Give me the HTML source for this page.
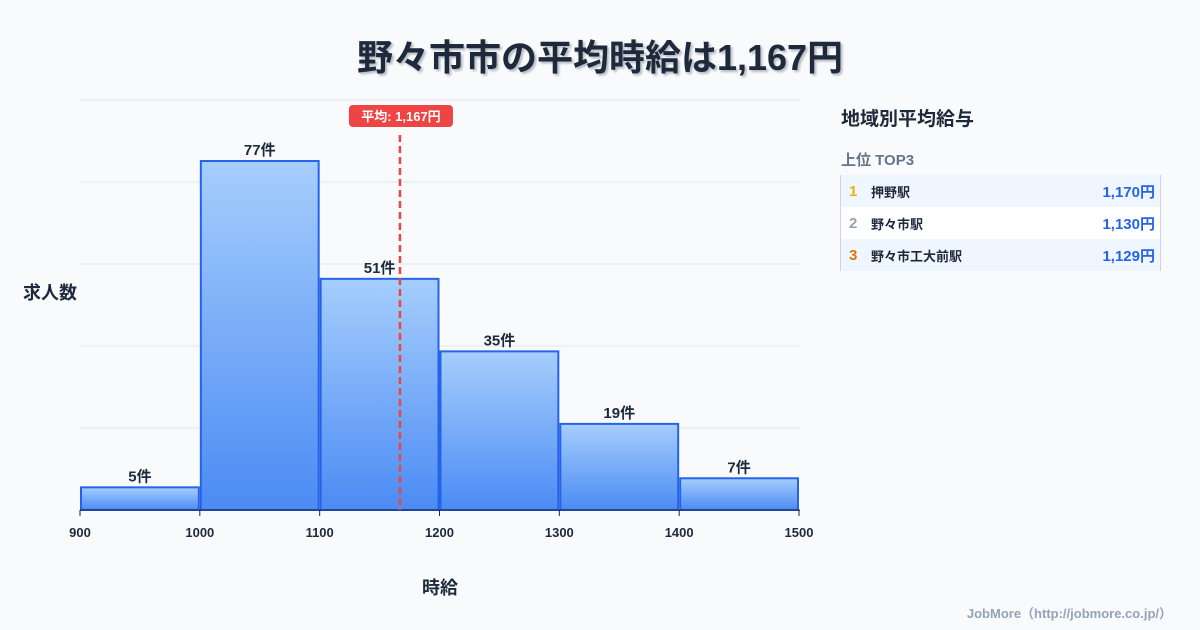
<!DOCTYPE html>
<html><head><meta charset="utf-8"><style>
body{margin:0;width:1200px;height:630px;background:#f8fafc;font-family:"Liberation Sans","Noto Sans CJK JP",sans-serif;overflow:hidden;position:relative}
.t{position:absolute;white-space:nowrap}
.row{height:32px;display:flex;align-items:center;font-weight:bold;padding:0 5px 0 8px}
.row .n{width:22px;font-size:15px}
.row .s{font-size:13px;color:#1e293b;flex:1}
.row .v{font-size:15px;color:#2563eb}
</style></head><body>
<div class="t" style="left:0;width:1200px;text-align:center;top:29px;font-size:36px;font-weight:bold;color:#1e293b;text-shadow:2px 2px 2px rgba(30,41,59,0.3)">野々市市の平均時給は1,167円</div>
<svg id="chart" width="1200" height="630" style="position:absolute;left:0;top:0">
<defs><linearGradient id="g" x1="0" y1="0" x2="0" y2="1"><stop offset="0" stop-color="#a6cefc"/><stop offset="1" stop-color="#4b8bf4"/></linearGradient></defs>
<g id="grid"></g><g id="bars"></g><g id="ticks"></g>
<text x="50" y="299" font-size="18" font-weight="bold" fill="#1e293b" text-anchor="middle">求人数</text>
<text x="440" y="594" font-size="18" font-weight="bold" fill="#1e293b" text-anchor="middle">時給</text>
<g id="avg"></g>
</svg>
<div class="t" style="left:841px;top:104px;font-size:19px;font-weight:bold;color:#1e293b">地域別平均給与</div>
<div class="t" style="left:841px;top:149px;font-size:15px;font-weight:bold;color:#64748b">上位 TOP3</div>
<div style="position:absolute;left:840px;top:175px;width:319px;border-left:1px solid #cbd5e1;border-right:1px solid #cbd5e1">
<div class="row" style="background:#eff6ff"><span class="n" style="color:#eab308">1</span><span class="s">押野駅</span><span class="v">1,170円</span></div>
<div class="row" style="background:#fff"><span class="n" style="color:#94a3b8">2</span><span class="s">野々市駅</span><span class="v">1,130円</span></div>
<div class="row" style="background:#eff6ff"><span class="n" style="color:#d97706">3</span><span class="s">野々市工大前駅</span><span class="v">1,129円</span></div>
</div>
<div class="t" style="right:28px;top:603px;font-size:13px;font-weight:bold;color:#94a3b8">JobMore（http://jobmore.co.jp/）</div>
<script>
const binStarts=[900,1000,1100,1200,1300,1400];
const counts=[5,77,51,35,19,7];
const xTicks=[900,1000,1100,1200,1300,1400,1500];
const avgValue=1167;
const avgLabel="平均: 1,167円";
const NS="http://www.w3.org/2000/svg";
const X=v=>80+(v-900)*719/600;
const Y=v=>510-v*349/77;
function mk(t,a,p){const e=document.createElementNS(NS,t);for(const k in a)e.setAttribute(k,a[k]);p.appendChild(e);return e;}
const grid=document.getElementById('grid');
for(let i=0;i<=5;i++){const y=510-i*82;const l=mk('line',{x1:80,x2:800,y1:y,y2:y,stroke:'#e2e8f0','stroke-width':1},grid);

}
const bars=document.getElementById('bars');
counts.forEach((c,i)=>{const x0=X(binStarts[i])+1,x1=X(binStarts[i]+100)-1;
const r=mk('rect',{x:x0,y:Y(c),width:x1-x0,height:510-Y(c),fill:'url(#g)',stroke:'#2563eb','stroke-width':2},bars);


const t=mk('text',{x:(x0+x1)/2,y:Y(c)-6,'font-size':15,'font-weight':'bold',fill:'#1e293b','text-anchor':'middle'},bars);t.textContent=c+'件';

});
const tk=document.getElementById('ticks');
mk('line',{x1:80,x2:800,y1:510,y2:510,stroke:'#1e293b','stroke-width':1},tk);
xTicks.forEach(v=>{mk('line',{x1:X(v),x2:X(v),y1:510,y2:516,stroke:'#1e293b'},tk);
const t=mk('text',{x:X(v),y:537,'font-size':13,'font-weight':'bold',fill:'#1e293b','text-anchor':'middle'},tk);t.textContent=v;

});
const ag=document.getElementById('avg');const ax=X(avgValue);
const dl=mk('line',{x1:ax,x2:ax,y1:135,y2:510,stroke:'#ef4444','stroke-width':2.5,'stroke-dasharray':'7,4'},ag);


const br=mk('rect',{x:ax-51,y:105,width:104,height:22,rx:4,fill:'#ef4444'},ag);


const at=mk('text',{x:ax+1,y:121,'font-size':13,'font-weight':'bold',fill:'#fff','text-anchor':'middle'},ag);at.textContent=avgLabel;


</script>
</body></html>
